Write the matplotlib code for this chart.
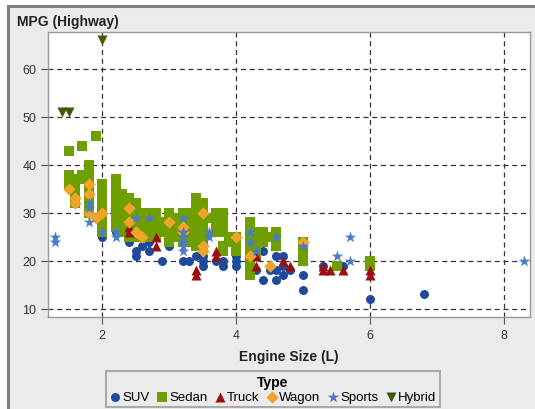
import matplotlib
matplotlib.use("Agg")
import matplotlib.pyplot as plt
from matplotlib.patches import Rectangle

plt.rcParams['font.family'] = ['Liberation Sans', 'DejaVu Sans']

# engine size (L) and highway MPG, one pair of lists per vehicle type
suv_engine = [2.0, 2.2, 2.4, 2.4, 2.5, 2.5, 2.6, 2.7, 2.7, 2.9, 3.0, 3.2, 3.3, 3.4,
              3.5, 3.5, 3.5, 3.7, 3.8, 3.8, 4.0, 4.0, 4.0, 4.2, 4.2, 4.2, 4.3, 4.4,
              4.4, 4.5, 4.6, 4.6, 4.6, 4.7, 4.7, 4.7, 4.8, 5.0, 5.0, 5.3, 5.6, 6.0, 6.8]
suv_mpg = [25, 26, 25, 24, 22, 21, 23, 22, 24, 20, 23, 20, 20, 21,
           19, 21, 20, 20, 19, 20, 21, 20, 19, 19, 20, 21, 18, 22,
           16, 18, 21, 18, 16, 21, 19, 17, 18, 17, 14, 19, 19, 12, 13]

sedan_engine = [1.5, 1.5, 1.5, 1.6, 1.6, 1.6, 1.6, 1.6, 1.7, 1.7, 1.7,
                1.8, 1.8, 1.8, 1.8, 1.8, 1.8, 1.8, 1.9,
                2.0, 2.0, 2.0, 2.0, 2.0, 2.0, 2.0, 2.0, 2.0,
                2.2, 2.2, 2.2, 2.2, 2.2, 2.2, 2.2, 2.2, 2.2, 2.2,
                2.3, 2.3, 2.3, 2.3, 2.3, 2.3, 2.3, 2.3,
                2.4, 2.4, 2.4, 2.4, 2.4, 2.4, 2.4, 2.4, 2.4,
                2.5, 2.5, 2.5, 2.5, 2.5, 2.5, 2.5, 2.5,
                2.6, 2.6, 2.6, 2.6, 2.6,
                2.7, 2.7, 2.7, 2.7, 2.7, 2.7,
                2.8, 2.8, 2.8, 2.8, 2.8, 2.9, 2.9, 2.9,
                3.0, 3.0, 3.0, 3.0, 3.0, 3.0, 3.0,
                3.1, 3.1, 3.1, 3.1, 3.1,
                3.2, 3.2, 3.2, 3.2, 3.2, 3.2, 3.2,
                3.3, 3.3, 3.3, 3.3,
                3.4, 3.4, 3.4, 3.4, 3.4, 3.4, 3.4, 3.4, 3.4,
                3.5, 3.5, 3.5, 3.5, 3.5, 3.5, 3.5, 3.5, 3.5, 3.5, 3.6,
                3.7, 3.7, 3.7,
                3.8, 3.8, 3.8, 3.8, 3.8, 3.8, 3.8, 3.9, 3.9, 4.0, 4.0, 4.0,
                4.2, 4.2, 4.2, 4.2, 4.2, 4.2, 4.2, 4.2, 4.2, 4.2, 4.2,
                4.3, 4.3, 4.3, 4.3, 4.3, 4.3,
                4.4, 4.4, 4.5, 4.6, 4.6, 4.6, 4.6,
                5.0, 5.0, 5.0, 5.0, 5.5, 6.0, 6.0]
sedan_mpg = [43, 38, 36, 37, 36, 34, 33, 32, 44, 38, 37,
             40, 38, 36, 34, 32, 31, 30, 46,
             36, 34, 33, 31, 30, 29, 28, 27, 26,
             37, 35, 34, 33, 32, 31, 30, 29, 28, 27,
             34, 33, 32, 31, 30, 28, 27, 26,
             33, 32, 31, 30, 29, 28, 27, 26, 25,
             32, 31, 30, 29, 28, 27, 26, 25,
             30, 29, 28, 27, 26,
             30, 29, 28, 27, 26, 25,
             30, 28, 27, 26, 25, 28, 27, 26,
             30, 29, 28, 27, 26, 25, 24,
             29, 28, 27, 26, 25,
             30, 29, 28, 27, 26, 25, 24,
             30, 28, 26, 24,
             33, 32, 31, 30, 28, 26, 25, 24, 23,
             32, 31, 30, 29, 28, 27, 26, 25, 24, 23, 29,
             30, 28, 26,
             30, 29, 28, 27, 26, 23, 22, 25, 24, 25, 24, 22,
             28, 27, 26, 25, 24, 22, 21, 20, 19, 18, 17,
             26, 25, 24, 23, 22, 21,
             26, 24, 25, 26, 25, 24, 23,
             24, 22, 21, 20, 19, 20, 19]

truck_engine = [2.4, 2.4, 2.8, 2.8, 3.4, 3.4, 3.7, 3.7, 4.3, 4.3, 4.7,
                4.8, 5.3, 5.3, 5.4, 5.6, 6.0, 6.0]
truck_mpg = [27, 26, 25, 23, 18, 17, 22, 21, 21, 19, 20,
             19, 19, 18, 18, 18, 18, 17]

wagon_engine = [1.5, 1.6, 1.6, 1.8, 1.8, 1.8, 1.9, 2.0, 2.4, 2.4, 2.5, 2.6,
                3.0, 3.2, 3.2, 3.5, 3.5, 3.5, 4.0, 4.2, 4.5, 5.0]
wagon_mpg = [35, 33, 32, 36, 34, 30, 29, 30, 31, 28, 26, 25,
             28, 27, 26, 30, 23, 22, 25, 21, 19, 24]

sports_engine = [1.3, 1.3, 1.8, 1.8, 1.8, 2.0, 2.2, 2.2, 2.5, 2.7, 3.2, 3.2, 3.2,
                 3.2, 3.2, 3.2, 3.6, 3.6, 4.2, 4.2, 4.3, 4.6, 5.0, 5.5, 5.7,
                 5.7, 8.3]
sports_mpg = [25, 24, 32, 31, 28, 26, 26, 25, 29, 29, 29, 26, 25,
              24, 23, 22, 26, 25, 26, 24, 22, 25, 23, 21, 25,
              20, 20]

hybrid_engine = [1.4, 1.5, 2.0]
hybrid_mpg = [51, 51, 66]

groups = [
    ('SUV', suv_engine, suv_mpg, 'o', '#1F4A9C', 42),
    ('Sedan', sedan_engine, sedan_mpg, 's', '#6E9E00', 55),
    ('Truck', truck_engine, truck_mpg, '^', '#9A1010', 52),
    ('Wagon', wagon_engine, wagon_mpg, 'D', '#F0A52A', 40),
    ('Sports', sports_engine, sports_mpg, '*', '#4A7CC6', 75),
    ('Hybrid', hybrid_engine, hybrid_mpg, 'v', '#3E5A0A', 52),
]

fig = plt.figure(figsize=(5.35, 4.10), dpi=100, facecolor='white')
fig.patches.append(Rectangle((8 / 535, -0.1), 1.2, 1.1 - 7 / 410,
                             transform=fig.transFigure, facecolor='#EBEBEB',
                             edgecolor='#7F7F7F', linewidth=2.2, zorder=-10))

ax = fig.add_axes([48 / 535, 1 - 318 / 410, 482 / 535, 285 / 410])
ax.set_facecolor('white')

for name, xs, ys, mk, col, size in groups:
    ax.scatter(xs, ys, marker=mk, s=size, color=col, linewidths=0, label=name, zorder=3)

ax.set_xlim(1.19, 8.39)
ax.set_ylim(8.3, 67.7)
ax.set_xticks([2, 4, 6, 8])
ax.set_yticks([10, 20, 30, 40, 50, 60])
ax.grid(True, color='#333333', linestyle=(0, (4, 3)), linewidth=0.9, zorder=1)
ax.tick_params(colors='#555555', labelcolor='#333333', labelsize=9, length=5, width=0.8)
for sp in ax.spines.values():
    sp.set_color('#999999')
    sp.set_linewidth(1.0)

ax.set_xlabel('Engine Size (L)', fontsize=10, fontweight='bold', color='#222222', labelpad=6)
fig.text(17 / 535, 1 - 22 / 410, 'MPG (Highway)', fontsize=10, fontweight='bold',
         color='#222222', va='center', ha='left')

leg = fig.legend(loc='center', bbox_to_anchor=(273 / 535, 1 - 390 / 410), ncol=6,
                 title='Type', fontsize=9.5, frameon=True, handletextpad=0.15,
                 columnspacing=0.55, borderpad=0.25, labelspacing=0.2,
                 handlelength=0.8, borderaxespad=0, fancybox=False)
leg.get_title().set_fontweight('bold')
leg.get_title().set_fontsize(10)
leg.get_frame().set_facecolor('#EBEBEB')
leg.get_frame().set_edgecolor('#9A9A9A')
leg.get_frame().set_linewidth(1.5)

fig.savefig('out.png', dpi=100)
